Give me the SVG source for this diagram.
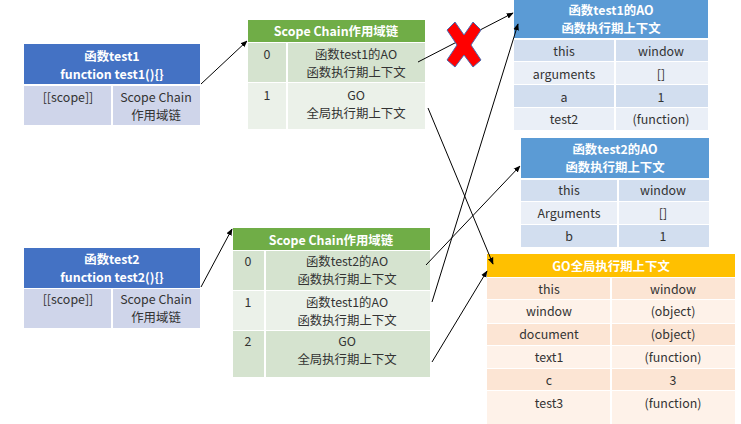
<svg xmlns="http://www.w3.org/2000/svg" width="741" height="424" viewBox="0 0 741 424">
<defs>
<marker id="ah" viewBox="0 0 10 10" refX="9" refY="5" markerWidth="7" markerHeight="7" orient="auto-start-reverse" markerUnits="userSpaceOnUse"><path d="M0,1 L10,5 L0,9 z" fill="#000"/></marker>
<style>
text{font-family:"Noto Sans CJK SC","Microsoft YaHei","Liberation Sans",sans-serif;font-size:12.4px;fill:#333;text-anchor:middle;dominant-baseline:central}
text.h{fill:#fff;font-weight:bold}
.bh{fill:#4472C4}.br{fill:#CFD5EA}
.gh{fill:#70AD47}.g1{fill:#D5E3CF}.g2{fill:#EBF1E9}
.ah{fill:#5B9BD5}.a1{fill:#D2DEEF}.a2{fill:#EAEFF7}
.oh{fill:#FFC000}.o1{fill:#FCE5D4}.o2{fill:#FEF2E9}
.sep{stroke:#fff;stroke-width:2}
.c{stroke:#000;stroke-width:1;fill:none;marker-end:url(#ah)}
</style>
</defs>
<rect width="741" height="424" fill="#fff"/>
<g id="test1">
<rect class="bh" x="24" y="44" width="176" height="40"/>
<rect class="br" x="24" y="86" width="176" height="39"/>
<line class="sep" x1="112" y1="86" x2="112" y2="125"/>
<text class="h" x="112" y="56">函数test1</text>
<text class="h" x="112" y="74">function test1(){}</text>
<text x="68" y="97">[[scope]]</text>
<text x="156" y="97">Scope Chain</text>
<text x="156" y="115">作用域链</text>
</g>
<g id="scope1">
<rect class="gh" x="248" y="20" width="177" height="22"/>
<rect class="g1" x="248" y="43" width="177" height="39"/>
<rect class="g2" x="248" y="83" width="177" height="46"/>
<line class="sep" x1="287" y1="43" x2="287" y2="129"/>
<text class="h" x="336" y="31">Scope Chain作用域链</text>
<text x="267" y="54">0</text>
<text x="356" y="54">函数test1的AO</text>
<text x="356" y="72">函数执行期上下文</text>
<text x="267" y="95">1</text>
<text x="356" y="95">GO</text>
<text x="356" y="113">全局执行期上下文</text>
</g>
<g id="ao1">
<rect class="ah" x="514" y="0" width="194" height="38"/>
<rect class="a1" x="514" y="40" width="194" height="21"/>
<rect class="a2" x="514" y="62" width="194" height="22"/>
<rect class="a1" x="514" y="85" width="194" height="22"/>
<rect class="a2" x="514" y="108" width="194" height="22"/>
<line class="sep" x1="615" y1="40" x2="615" y2="130"/>
<text class="h" x="611" y="10">函数test1的AO</text>
<text class="h" x="611" y="28">函数执行期上下文</text>
<text x="564" y="51">this</text><text x="661" y="51">window</text>
<text x="564" y="74">arguments</text><text x="661" y="74">[]</text>
<text x="564" y="97">a</text><text x="661" y="97">1</text>
<text x="564" y="119">test2</text><text x="661" y="119">(function)</text>
</g>
<g id="ao2">
<rect class="ah" x="521" y="138" width="188" height="40"/>
<rect class="a1" x="521" y="180" width="188" height="21"/>
<rect class="a2" x="521" y="202" width="188" height="22"/>
<rect class="a1" x="521" y="225" width="188" height="22"/>
<line class="sep" x1="618" y1="180" x2="618" y2="247"/>
<text class="h" x="615" y="149">函数test2的AO</text>
<text class="h" x="615" y="167">函数执行期上下文</text>
<text x="569" y="190">this</text><text x="663" y="190">window</text>
<text x="569" y="213">Arguments</text><text x="663" y="213">[]</text>
<text x="569" y="236">b</text><text x="663" y="236">1</text>
</g>
<g id="test2">
<rect class="bh" x="24" y="248" width="176" height="40"/>
<rect class="br" x="24" y="289" width="176" height="39"/>
<line class="sep" x1="112" y1="289" x2="112" y2="328"/>
<text class="h" x="112" y="259">函数test2</text>
<text class="h" x="112" y="277">function test2(){}</text>
<text x="68" y="299">[[scope]]</text>
<text x="156" y="299">Scope Chain</text>
<text x="156" y="317">作用域链</text>
</g>
<g id="scope2">
<rect class="gh" x="233" y="228" width="197" height="22"/>
<rect class="g1" x="233" y="251" width="197" height="39"/>
<rect class="g2" x="233" y="291" width="197" height="39"/>
<rect class="g1" x="233" y="331" width="197" height="46"/>
<line class="sep" x1="265" y1="251" x2="265" y2="377"/>
<text class="h" x="331" y="240">Scope Chain作用域链</text>
<text x="248" y="261">0</text>
<text x="347" y="261">函数test2的AO</text>
<text x="347" y="279">函数执行期上下文</text>
<text x="248" y="302">1</text>
<text x="347" y="302">函数test1的AO</text>
<text x="347" y="320">函数执行期上下文</text>
<text x="248" y="341">2</text>
<text x="347" y="341">GO</text>
<text x="347" y="359">全局执行期上下文</text>
</g>
<g id="go">
<rect class="oh" x="487" y="254" width="248" height="23"/>
<rect class="o1" x="487" y="278" width="248" height="21"/>
<rect class="o2" x="487" y="300" width="248" height="23"/>
<rect class="o1" x="487" y="324" width="248" height="21"/>
<rect class="o2" x="487" y="346" width="248" height="22"/>
<rect class="o1" x="487" y="369" width="248" height="21"/>
<rect class="o2" x="487" y="391" width="248" height="33"/>
<line class="sep" x1="611" y1="278" x2="611" y2="424"/>
<text class="h" x="611" y="266">GO全局执行期上下文</text>
<text x="549" y="289">this</text><text x="673" y="289">window</text>
<text x="549" y="311">window</text><text x="673" y="311">(object)</text>
<text x="549" y="334">document</text><text x="673" y="334">(object)</text>
<text x="549" y="357">text1</text><text x="673" y="357">(function)</text>
<text x="549" y="380">c</text><text x="673" y="380">3</text>
<text x="549" y="403">test3</text><text x="673" y="403">(function)</text>
</g>
<g id="connectors">
<line class="c" x1="201" y1="84" x2="247" y2="41"/>
<line class="c" x1="201" y1="287" x2="232" y2="229"/>
<line class="c" x1="418" y1="62" x2="513" y2="13"/>
<line class="c" x1="428" y1="108" x2="493" y2="264"/>
<line class="c" x1="426" y1="265" x2="520" y2="166"/>
<line class="c" x1="432" y1="302" x2="518" y2="24"/>
<line class="c" x1="432" y1="362" x2="487" y2="271"/>
</g>
<g id="cross">
<path d="M447,30 L455,22 L464,35 L473,22 L481,30 L471,45 L481,60 L473,67 L464,55 L455,67 L447,60 L457,45 Z" fill="#F00" stroke="#4A6AB0" stroke-width="1"/>
</g>
</svg>
